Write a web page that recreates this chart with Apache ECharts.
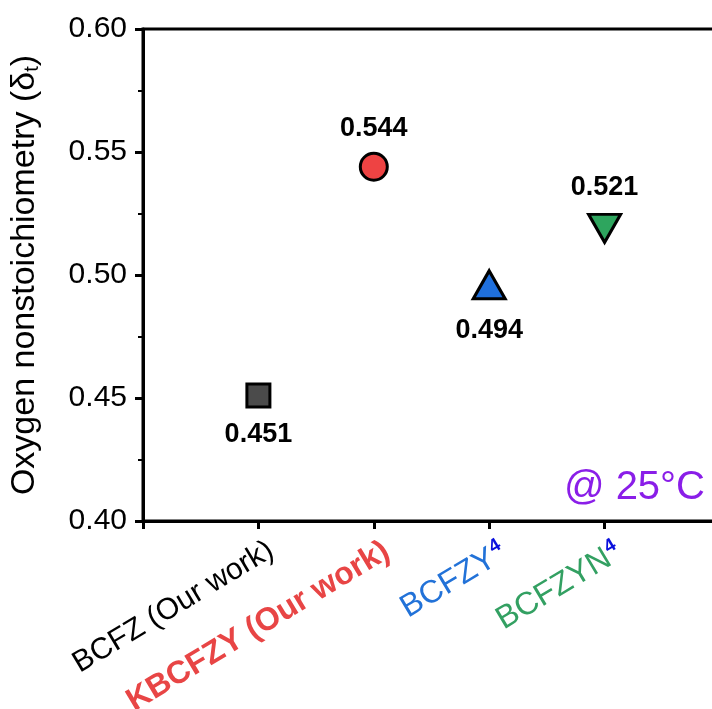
<!DOCTYPE html>
<html><head><meta charset="utf-8">
<script src="https://cdn.jsdelivr.net/npm/echarts@6/dist/echarts.min.js"></script>
<style>html,body{margin:0;padding:0;background:#fff}#c{width:712px;height:709px}</style>
</head><body><div id="c"></div>
<script>
var categories = ['BCFZ (Our work)', 'KBCFZY (Our work)', 'BCFZY', 'BCFZYN'];
var superscripts = ['', '', '4', '4'];
var values = [0.451, 0.544, 0.494, 0.521];
var yTicks = [0.40, 0.45, 0.50, 0.55, 0.60];

var styles = [
  {symbol: 'rect', size: [23, 23], off: [0, 0], color: '#4b4b4b', pos: 'bottom', dist: 13, lab: 'blk'},
  {symbol: 'circle', size: 27, off: [0, 0], color: '#ee4343', pos: 'top', dist: 10, lab: 'red'},
  {symbol: 'triangle', size: [32, 28], off: [0, -5], color: '#1f6fdc', pos: 'bottom', dist: 17, lab: 'blu'},
  {symbol: 'path://M0,0 L2,0 L1,2 Z', size: [32, 28], off: [0, 5], color: '#2ea55e', pos: 'top', dist: 12, lab: 'grn'}
];

var data = values.map(function (v, i) {
  var s = styles[i];
  return {
    value: [i + 1, v],
    symbol: s.symbol,
    symbolSize: s.size,
    symbolOffset: s.off,
    itemStyle: {color: s.color, borderColor: '#000', borderWidth: 3, opacity: 1},
    label: {show: true, position: s.pos, distance: s.dist, formatter: v.toFixed(3),
      fontFamily: 'Liberation Sans', fontWeight: 'bold', fontSize: 27, color: '#000', opacity: 1}
  };
});

var font = 'Liberation Sans';
var chart = echarts.init(document.getElementById('c'), null, {renderer: 'canvas'});
chart.setOption({
  animation: false,
  backgroundColor: '#fff',
  grid: {left: 143, top: 29, bottom: 188, right: -8, containLabel: false, outerBoundsMode: 'none',
    show: true, borderColor: '#000', borderWidth: 3},
  xAxis: {
    type: 'value', min: 0, max: 5, interval: 1,
    axisLine: {show: true, onZero: false, lineStyle: {color: '#000', width: 3}},
    axisTick: {show: true, length: 8, lineStyle: {color: '#000', width: 3}},
    splitLine: {show: false},
    axisLabel: {
      rotate: 31, margin: 0, align: 'right', verticalAlign: 'top', padding: [15, 3, 0, 0],
      fontFamily: font, fontSize: 30,
      formatter: function (v) {
        var i = Math.round(v) - 1;
        if (i < 0 || i >= categories.length) return '';
        var key = styles[i].lab;
        var s = '{' + key + '|' + categories[i] + '}';
        if (superscripts[i]) s += '{sup|' + superscripts[i] + '}';
        return s;
      },
      rich: {
        blk: {fontFamily: font, fontSize: 30, color: '#000'},
        red: {fontFamily: font, fontSize: 32, color: '#e84545', fontWeight: 'bold'},
        blu: {fontFamily: font, fontSize: 32, color: '#2272d8'},
        grn: {fontFamily: font, fontSize: 32, color: '#33a062'},
        sup: {fontFamily: font, fontSize: 19, color: '#0a10dd', fontWeight: 'bold', verticalAlign: 'top', padding: [0, 0, 16, 1]}
      }
    }
  },
  yAxis: {
    type: 'value', min: 0.40, max: 0.60, interval: 0.05,
    name: '{m|Oxygen nonstoichiometry (δ}{s|t}{m|)}',
    nameLocation: 'middle', nameGap: 101,
    nameTextStyle: {
      rich: {
        m: {fontFamily: font, fontSize: 34, color: '#000'},
        s: {fontFamily: font, fontSize: 20, color: '#000', verticalAlign: 'bottom', padding: [10, 0, 0, 0]}
      }
    },
    axisLine: {show: true, lineStyle: {color: '#000', width: 3}},
    axisTick: {show: true, length: 8, lineStyle: {color: '#000', width: 3}},
    minorTick: {show: true, splitNumber: 2, length: 5, lineStyle: {color: '#000', width: 2}},
    splitLine: {show: false},
    axisLabel: {fontFamily: font, fontSize: 30, color: '#000', margin: 16,
      formatter: function (v) { return v.toFixed(2); }}
  },
  graphic: [{
    type: 'text', right: 7, top: 468,
    style: {text: '@ 25°C', fontFamily: font, fontSize: 40, fill: '#8a1ee8'}
  }],
  series: [{
    type: 'scatter',
    itemStyle: {opacity: 1},
    data: data
  }]
});
</script></body></html>
